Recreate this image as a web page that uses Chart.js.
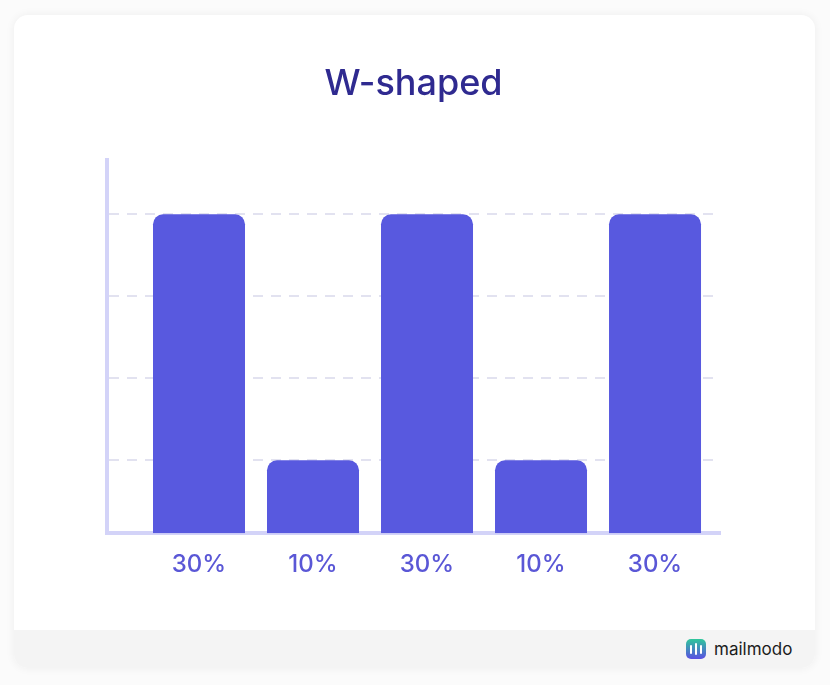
<!DOCTYPE html>
<html>
<head>
<meta charset="utf-8">
<script src="https://cdn.jsdelivr.net/npm/chart.js@4"></script>
<style>
  html, body { margin: 0; padding: 0; background: #fbfbfb; }
  #wrap { position: relative; width: 830px; height: 685px; overflow: hidden; }
  .card {
    position: absolute; left: 14px; top: 15px; width: 801px; height: 653px;
    background: #fff; border-radius: 14px; overflow: hidden;
    box-shadow: 0 0 10px rgba(0,0,0,0.06);
  }
  .footer {
    position: absolute; left: 0; right: 0; bottom: 0; height: 38px;
    background: #f4f4f4;
  }
  .brand {
    position: absolute; left: 672px; top: 9px; display: flex; align-items: center;
    font-family: Inter, "Noto Sans", sans-serif; font-size: 17px; color: #1c1c1c;
  }
  .logo {
    width: 20px; height: 20px; border-radius: 5px; margin-right: 8px;
    background: linear-gradient(#2fc79b, #5a4fe3);
    display: flex; align-items: center; justify-content: center; gap: 3px;
  }
  .logo span { width: 2px; background: #fff; border-radius: 1px; }
  canvas { position: absolute; left: 0; top: 0; }
</style>
</head>
<body>
<div id="wrap">
  <div class="card">
    <div class="footer">
      <div class="brand">
        <div class="logo"><span style="height:9px"></span><span style="height:12px"></span><span style="height:9px"></span></div>
        mailmodo
      </div>
    </div>
  </div>
  <canvas id="chart" width="830" height="685"></canvas>
</div>
<script>
const title = 'W-shaped';
const values = [30, 10, 30, 10, 30];
const xLabels = values.map(v => v + '%');
const gridTicks = [10, 50 / 3, 70 / 3, 30];
const yMin = 4.07;
const yMax = 34.4;

const barColor = '#5859df';
const axisColor = '#d3d3f8';
const gridColor = '#e2e2f0';
const labelColor = '#5a57d6';
const titleColor = '#2f2a90';

const ctx = document.getElementById('chart').getContext('2d');

new Chart(ctx, {
    type: 'bar',
    data: {
        datasets: [{
            data: values.map((v, i) => ({ x: i, y: v })),
            backgroundColor: barColor,
            borderRadius: { topLeft: 10, topRight: 10, bottomLeft: 0, bottomRight: 0 },
            borderSkipped: 'start',
            base: yMin,
            categoryPercentage: 1,
            barPercentage: 0.807,
        }]
    },
    options: {
        responsive: false,
        animation: false,
        layout: {
            padding: { left: 107, right: 110, top: 0, bottom: 89 }
        },
        plugins: {
            legend: { display: false },
            tooltip: { enabled: false },
            title: {
                display: true,
                text: title,
                color: titleColor,
                font: { family: 'Inter', size: 36, weight: '500' },
                padding: { top: 63, bottom: 54 }
            }
        },
        scales: {
            x: {
                type: 'linear',
                offset: false,
                min: -0.807,
                max: 4.57,
                afterBuildTicks: scale => {
                    scale.ticks = values.map((_, i) => ({ value: i }));
                },
                ticks: {
                    color: labelColor,
                    font: { family: 'Inter', size: 24, weight: '500' },
                    padding: 17,
                    callback: v => xLabels[v]
                },
                grid: { display: false, drawTicks: false },
                border: { display: true, color: axisColor, width: 4 }
            },
            y: {
                min: yMin,
                max: yMax,
                afterBuildTicks: scale => {
                    scale.ticks = gridTicks.map(v => ({ value: v }));
                },
                ticks: { display: false },
                grid: {
                    color: gridColor,
                    lineWidth: 2,
                    drawTicks: false
                },
                border: { display: true, color: axisColor, width: 4, dash: [10, 8] }
            }
        }
    }
});
</script>
</body>
</html>
